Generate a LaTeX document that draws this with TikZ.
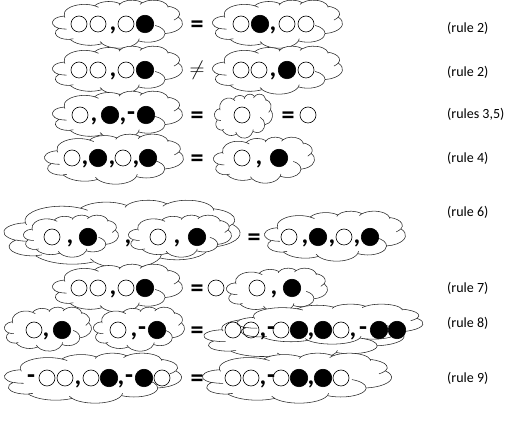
\documentclass[tikz,border=0pt]{standalone}
\usepackage{fontspec}
\setmainfont{Carlito}
\newcommand\oa[4]{\pgfextra{%
  \pgfmathsetmacro\tA{atan2(#1*sin(#3),#2*cos(#3))}%
  \pgfmathsetmacro\tB{atan2(#1*sin(#3+#4),#2*cos(#3+#4))}%
  \ifdim #4pt>0pt \ifdim\tB pt<\tA pt \pgfmathsetmacro\tB{\tB+360}\fi
  \else \ifdim\tB pt>\tA pt \pgfmathsetmacro\tB{\tB-360}\fi\fi}
  arc[start angle=\tA, end angle=\tB, x radius=#1, y radius=#2]}
\tikzset{
 wc/.style={circle,draw,line width=0.6pt,minimum size=16pt,inner sep=0pt},
 bc/.style={circle,draw,fill=black,line width=0.6pt,minimum size=17.5pt,inner sep=0pt},
 cloudline/.style={draw=black!85,line width=0.55pt,line join=round},
 sym/.style={font=\fontsize{26}{26}\selectfont\bfseries,inner sep=0pt,anchor=base},
 lbl/.style={font=\fontsize{14}{14}\selectfont,anchor=west,inner sep=0pt},
 pics/wh/.style={code={\node[wc] {};}},
 pics/bk/.style={code={\node[bc] {};}},
 pics/cm/.style={code={\node[sym] at (0,7) {,};}},
 pics/ds/.style={code={\node[sym] at (0,5.5) {-};}},
 pics/eq/.style={code={\node[sym] at (0,8.5) {=};}},
 pics/wcloud/.style={code={
  \begin{scope}[shift={(-216,-216)}]
  \path[cloudline,fill=white] (39,143.7)
    \oa{67.53}{91.90}{-190.4875}{123.7805}
    \oa{53.33}{72.67}{-144.1024}{89.9452}
    \oa{43.65}{59.45}{-145.8079}{99.7230}
    \oa{48.57}{65.95}{-130.9861}{117.2417}
    \oa{53.33}{72.73}{-78.7089}{109.0269}
    \oa{67.75}{92.20}{-46.2673}{130.2690}
    \oa{57.85}{78.67}{0.6250}{114.0333}
    \oa{67.52}{92.15}{22.4516}{115.1726}
    \oa{77.20}{105.43}{66.2426}{75.7110}
    \oa{43.60}{59.18}{-274.9421}{146.7356}
    \oa{43.45}{59.45}{-246.8285}{152.5189} -- cycle;
  \path[cloudline]
    (46.93,261.77) \oa{43.45}{59.45}{86.7420}{26.4295}
    (69.28,348.99) \oa{43.60}{59.18}{73.6105}{11.4475}
    (164.78,390.90) \oa{67.52}{92.15}{137.6242}{14.0811}
    (288.27,347.51) \oa{67.52}{92.15}{6.4533}{15.9984}
    (341.29,229.54) \oa{57.85}{78.67}{-70.2924}{70.9174}
    (417.98,153.54) \oa{53.33}{72.73}{30.3180}{27.7515}
    (383.24,54.26) \oa{48.57}{65.95}{-13.7443}{14.8589}
    (290.78,39.52) \oa{48.57}{65.95}{-149.1815}{18.1954}
    (221.41,47.20) \oa{43.65}{59.45}{-163.4943}{17.6864}
    (140.00,51.92) \oa{67.53}{91.90}{-66.7070}{12.3194}
    (41.27,157.89) \oa{67.53}{91.90}{157.6544}{11.8582};
  \end{scope}}},
}
% cloud at center (x,y) with width w and height h
\newcommand\wcl[4]{\pic[xscale=#3/432,yscale=#4/432] at (#1,#2) {wcloud};}
\begin{document}
\begin{tikzpicture}[x=1pt,y=-1pt]
\useasboundingbox (0,0) rectangle (515,435);
% row 1
\wcl{117.5}{24}{130}{48}
\wcl{277.5}{24}{130}{48}
\foreach \t/\x in {wh/79,wh/98,cm/113,wh/126,bk/145,eq/197,wh/241,bk/260,cm/273,wh/287,wh/306}
  \pic at (\x,24) {\t};
\node[lbl] (l1) at (447,28) {(rule 2)};
% row 2
\wcl{117.5}{70}{130}{48}
\wcl{277.5}{70}{130}{48}
\foreach \t/\x in {wh/79,wh/98,cm/113,wh/126,bk/145,wh/241,wh/259,cm/273,bk/287,wh/306}
  \pic at (\x,70) {\t};
\node[font=\fontsize{22}{22}\selectfont,inner sep=0pt] (ne) at (197,70) {$\neq$};
\node[lbl] (l2) at (447,72) {(rule 2)};
% row 3
\wcl{117.5}{115}{130}{48}
\wcl{243.5}{116}{58}{44}
\foreach \t/\x in {wh/80,cm/94,bk/110,cm/123,ds/131,bk/146,eq/197,wh/242,eq/288,wh/308}
  \pic at (\x,115) {\t};
\node[lbl] (l3) at (447,114) {(rules 3,5)};
% row 4
\wcl{114}{159}{139}{50}
\wcl{264}{160}{101}{46}
\foreach \t/\x in {wh/72,cm/85,bk/98,cm/112,wh/123,cm/136,bk/148,eq/197,wh/242,cm/259,bk/279}
  \pic at (\x,158) {\t};
\node[lbl] (l4) at (447,158) {(rule 4)};
% row 6
\wcl{122}{234}{236}{68}
\wcl{71}{236}{95}{42}
\wcl{180}{236}{103}{42}
\wcl{335}{236}{141}{50}
\foreach \t/\x in {wh/52,cm/70,bk/88,cm/128,wh/158,cm/177,bk/197,eq/254,wh/289,cm/305,bk/318,cm/332,wh/344,cm/357,bk/370}
  \pic at (\x,237) {\t};
\node[lbl] (l6) at (447,212) {(rule 6)};
% row 7
\wcl{117.5}{288}{130}{48}
\wcl{277}{290}{101}{44}
\foreach \t/\x in {wh/79,wh/98,cm/113,wh/126,bk/145,eq/197,wh/216,wh/257,cm/274,bk/292}
  \pic at (\x,288) {\t};
\node[lbl] (l7) at (447,288) {(rule 7)};
% row 8
\wcl{48}{329}{87}{44}
\wcl{139}{329}{91}{44}
\wcl{304}{337}{200}{44}
\wcl{330}{324}{186}{40}
\foreach \t/\x in {wh/34,cm/46,bk/62,wh/118,cm/134,ds/142,bk/157,eq/197,wh/233,wh/251,cm/263,ds/271,wh/281,bk/299,cm/311,bk/323,wh/341,cm/353,ds/363,bk/379,bk/397}
  \pic at (\x,330) {\t};
\node[lbl] (l8) at (447,323) {(rule 8)};
% row 9
\wcl{93}{378}{177}{50}
\wcl{297}{378}{189}{50}
\foreach \t/\x in {ds/31,wh/47,wh/65,cm/78,wh/91,bk/109,cm/121,ds/129,bk/144,wh/162,eq/197,wh/233,wh/251,cm/263,ds/271,wh/281,bk/299,cm/311,bk/323,wh/341}
  \pic at (\x,378) {\t};
\node[lbl] (l9) at (447,378) {(rule 9)};
\end{tikzpicture}
\end{document}
